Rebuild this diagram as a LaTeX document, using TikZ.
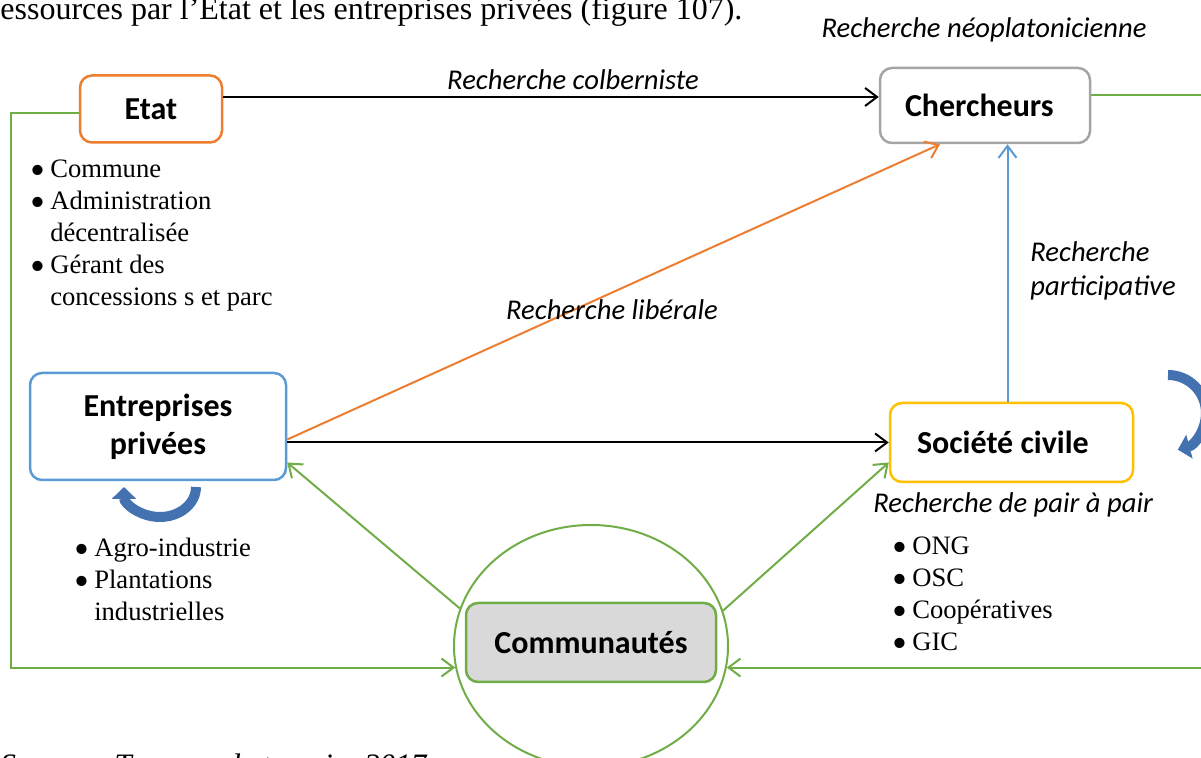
\documentclass[tikz,border=0pt]{standalone}
\usepackage{fontspec}
\usepackage{graphicx}
\setmainfont{Liberation Serif}
\newfontfamily\calibri{Carlito}
\usetikzlibrary{arrows.meta,shapes.geometric}

\definecolor{orangeetat}{RGB}{237,125,49}
\definecolor{grischerch}{RGB}{165,165,165}
\definecolor{bleuentr}{RGB}{91,155,213}
\definecolor{orsoc}{RGB}{255,192,0}
\definecolor{vertcomm}{RGB}{112,173,71}
\definecolor{grisfond}{RGB}{217,217,217}
\definecolor{fleche}{RGB}{68,114,176}

\newcommand\puce{\raisebox{-0.25em}{\scalebox{1.6}{\textbullet}}}

\begin{document}
\begin{tikzpicture}[x=0.5pt,y=-0.5pt,
  box/.style={draw,rounded corners=6pt,line width=1.25pt,fill=white,text=black,align=center,inner sep=0pt,
    font=\calibri\bfseries\fontsize{16}{19}\selectfont},
  lab/.style={inner sep=0pt,font=\calibri\itshape\fontsize{14.3}{17}\selectfont},
  puces/.style={inner sep=0pt,anchor=base west,font=\fontsize{13.3}{16}\selectfont},
  arr/.style={-{Straight Barb[length=6pt,width=9pt]},line width=1pt},
  vert/.style={arr,vertcomm},
  boucle/.style={line width=5pt,fleche,-{Triangle[length=6pt,width=12pt]}}]
  \useasboundingbox (0,0) rectangle (1201,758);

  % texte de la page
  \node[anchor=base west,inner sep=0pt,font=\fontsize{16}{19}\selectfont] (titre) at (0,20)
    {essources par l'Etat et les entreprises privées (figure 107).};
  \node[anchor=base west,inner sep=0pt,font=\itshape\fontsize{15.6}{19}\selectfont] (source) at (0,776)
    {Source : Travaux de terrain, 2017};

  % acteurs
  \node[box,draw=orangeetat,minimum width=71pt,minimum height=33.5pt] (etat) at (151,109) {Etat};
  \node[box,draw=grischerch,minimum width=105pt,minimum height=37.5pt,inner xsep=12.5pt,text width=80pt,align=flush left] (cher) at (985,105.5) {Chercheurs};
  \node[box,draw=bleuentr,minimum width=128pt,minimum height=53.5pt] (entr) at (158,426.5) {Entreprises\\privées};
  \node[box,draw=orsoc,minimum width=121.5pt,minimum height=39.5pt,inner xsep=13.5pt,text width=94.5pt,align=flush left] (soc) at (1011.5,442.5) {Société civile};
  \node[ellipse,draw=vertcomm,line width=1pt,minimum width=137pt,minimum height=121pt,inner sep=0pt] (cercle) at (591,646) {};
  \node[box,draw=vertcomm,fill=grisfond,minimum width=125pt,minimum height=39.5pt] (comm) at (591,642.5) {Communautés};

  % relations
  \draw[arr] ([yshift=6pt]etat.east) -- ([yshift=6pt]etat.east -| cher.west);
  \draw[arr] (entr.east |- soc.west) -- (soc.west);
  \draw[arr,orangeetat] ([yshift=-6.5pt]entr.east) -- ([xshift=-22.5pt]cher.south);
  \draw[arr,bleuentr] ([xshift=-2pt]soc.north) -- ([xshift=-2pt]soc.north |- cher.south);
  \draw[vert] (cercle.164) -- ([yshift=-18pt]entr.east);
  \draw[vert] (cercle.15) -- ([yshift=-10pt]soc.west);
  \draw[vert] ([yshift=-2pt]etat.west) -- ++(-68,0) |- (cercle.189);
  \draw[vert] ([yshift=5pt]cher.east) -- ++(125,0) |- (cercle.-9);

  % boucles
  \draw[boucle] (196,487) arc[start angle=0,end angle=180,x radius=36,y radius=30];
  \draw[boucle] (1168,375) arc[start angle=-90,end angle=75,radius=38];

  % types de recherche
  \node[lab,anchor=base] (colb) at (573,90) {Recherche colberniste};
  \node[lab,anchor=base] (neo) at (984,38) {Recherche néoplatonicienne};
  \node[lab,anchor=base] (lib) at (612,320) {Recherche libérale};
  \node[lab,anchor=base west,align=left] (part) at (1030,296) {Recherche\\participative};
  \node[lab,anchor=base west] (pair) at (873,513) {Recherche de pair à pair};

  % listes
  \node[puces] (etatliste) at (30,178) {\begin{tabular}[t]{@{}l@{\hspace{2.5pt}}l@{}}
    \puce & Commune\\ \puce & Administration\\ & décentralisée\\
    \puce & Gérant des\\ & concessions s et parc\end{tabular}};
  \node[puces] (entrliste) at (74,557) {\begin{tabular}[t]{@{}l@{\hspace{2.5pt}}l@{}}
    \puce & Agro-industrie\\ \puce & Plantations\\ & industrielles\end{tabular}};
  \node[puces] (socliste) at (892,555) {\begin{tabular}[t]{@{}l@{\hspace{2.5pt}}l@{}}
    \puce & ONG\\ \puce & OSC\\ \puce & Coopératives\\ \puce & GIC\end{tabular}};
\end{tikzpicture}
\end{document}
